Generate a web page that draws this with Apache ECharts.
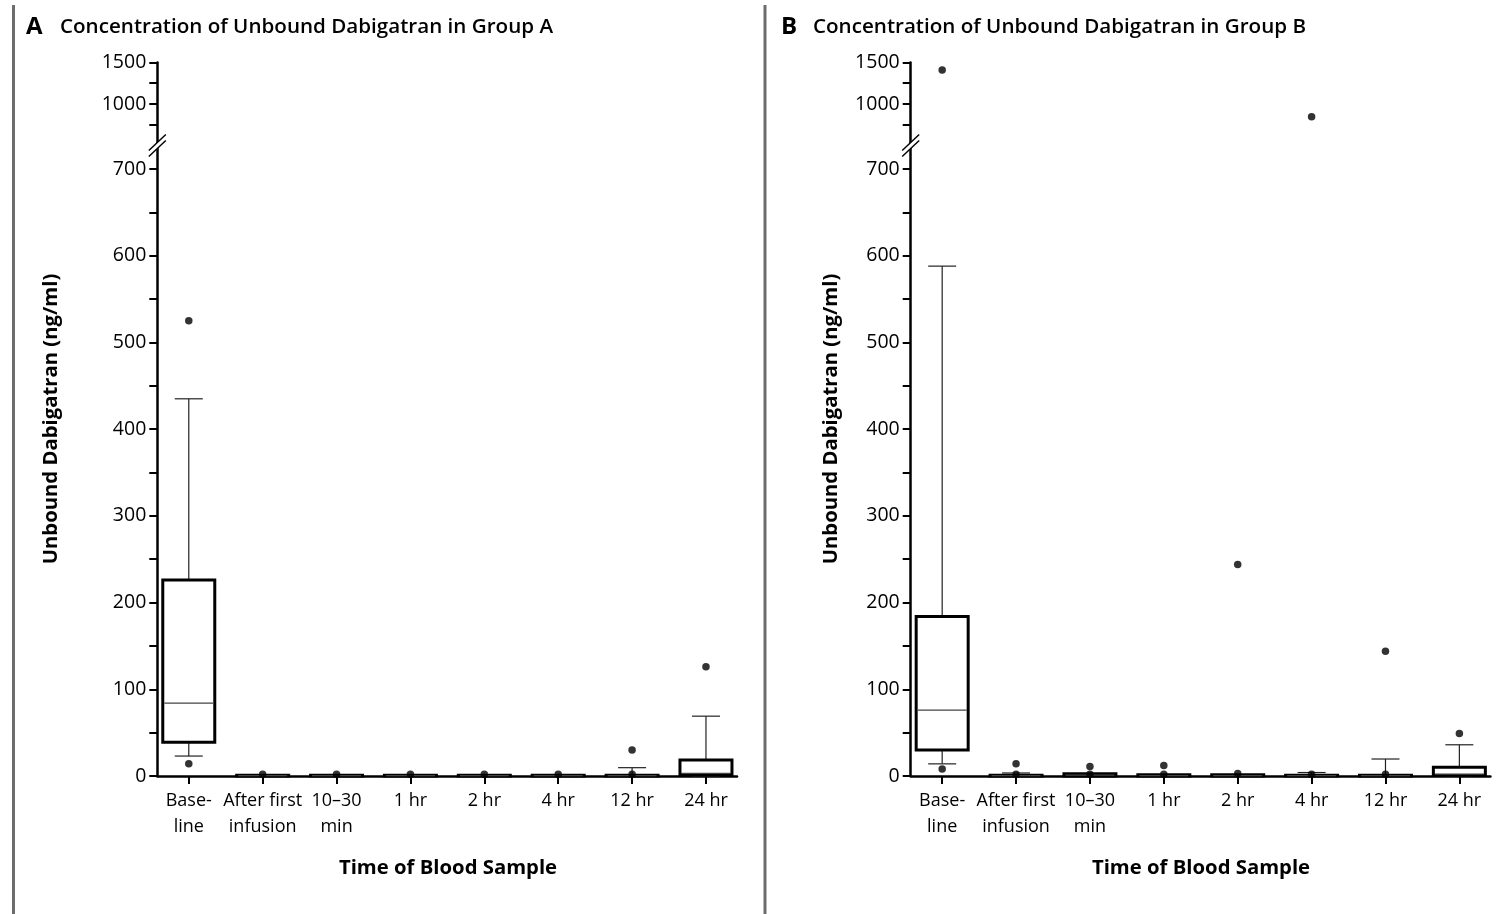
<!DOCTYPE html>
<html>
<head>
<meta charset="utf-8">
<script src="https://cdn.jsdelivr.net/npm/echarts@6/dist/echarts.min.js"></script>
<style>
html,body{margin:0;padding:0;background:#fff;}
#chart{width:1509px;height:914px;}
</style>
</head>
<body>
<div id="chart"></div>
<script>
// ---------------- DATA ----------------
const categories = ['Base-\nline', 'After first\ninfusion', '10–30\nmin', '1 hr', '2 hr', '4 hr', '12 hr', '24 hr'];
const categoryPositions = [0, 1, 2, 3, 4, 5, 6, 7];

const lowerTickValues = [0, 50, 100, 150, 200, 250, 300, 350, 400, 450, 500, 550, 600, 650, 700];
const lowerLabelValues = [0, 100, 200, 300, 400, 500, 600, 700];
const upperTickValues = [750, 1000, 1250, 1500];
const upperLabelValues = [1000, 1500];

// box stats: [lower whisker, Q1, median, Q3, upper whisker]
const boxesA = [
  [23, 39, 84, 226, 435],
  [0, 0, 0.5, 1, 1],
  [0, 0, 0.5, 1, 1],
  [0, 0, 0.5, 1, 1],
  [0, 0, 0.5, 1, 1],
  [0, 0, 0.5, 1, 1],
  [0, 0, 0.5, 1, 9.6],
  [0, 1.5, 3, 18.5, 69]
];
// outliers: [category index, value]
const outliersA = [
  [0, 525], [0, 14], [1, 2], [2, 2], [3, 2], [4, 2], [5, 2], [6, 30], [6, 2], [7, 126]
];

const boxesB = [
  [14, 30, 76, 184, 588],
  [0, 0, 0.5, 1, 3.5],
  [0, 0, 1, 2.5, 2.5],
  [0, 0, 0.5, 1.5, 1.5],
  [0, 0, 0.5, 1.5, 1.5],
  [0, 0, 0.5, 1, 4],
  [0, 0, 0.5, 1, 19.6],
  [0, 1, 2, 10, 36]
];
const outliersB = [
  [0, 1410], [0, 8], [1, 14], [1, 2], [2, 11], [2, 2], [3, 12], [3, 2],
  [4, 244], [4, 3], [5, 845], [5, 2], [6, 144], [6, 2], [7, 49]
];

const titleA = 'Concentration of Unbound Dabigatran in Group A';
const titleB = 'Concentration of Unbound Dabigatran in Group B';
const yAxisTitle = 'Unbound Dabigatran (ng/ml)';
const xAxisTitle = 'Time of Blood Sample';

// ---------------- LAYOUT ----------------
const FONT = "'Open Sans', Lato, sans-serif";
const BREAK_VALUE_LOW = 730;
const UPPER_MIN = 530, UPPER_MAX = 1500;
const X_MIN = -0.426, X_MAX = 7.42;
const panels = [
  { left: 157.3, boxes: boxesA, outliers: outliersA },
  { left: 910.7, boxes: boxesB, outliers: outliersB }
];
const GRID_W = 579.7;
const UPPER_TOP = 62.5, UPPER_H = 80.5;
const LOWER_TOP = 143, LOWER_H = 633;

const grids = [], xAxes = [], yAxes = [], series = [];

function yAxisCfg(gridIndex, min, max, ticks, labels) {
  return {
    type: 'value', gridIndex, min, max,
    axisLine: { show: true, onZero: false, lineStyle: { color: '#000', width: 2.5 } },
    axisTick: { show: true, length: 8, customValues: ticks, lineStyle: { color: '#000', width: 2 } },
    axisLabel: { customValues: labels, margin: 11, color: '#000', fontSize: 19.5, fontFamily: FONT, formatter: v => String(v) },
    splitLine: { show: false }
  };
}

function renderBox(params, api) {
  const x = api.value(0);
  const low = api.value(1), q1 = api.value(2), med = api.value(3), q3 = api.value(4), high = api.value(5);
  const pLow = api.coord([x, low]);
  const pQ1 = api.coord([x, q1]);
  const pMed = api.coord([x, med]);
  const pQ3 = api.coord([x, q3]);
  const pHigh = api.coord([x, high]);
  const cx = pMed[0];
  const halfBox = 26, halfCap = 14;
  const thin = { stroke: '#222', lineWidth: 1.2 };
  const children = [];
  if (high > q3) {
    children.push({ type: 'line', shape: { x1: cx, y1: pQ3[1], x2: cx, y2: pHigh[1] }, style: thin });
    children.push({ type: 'line', shape: { x1: cx - halfCap, y1: pHigh[1], x2: cx + halfCap, y2: pHigh[1] }, style: thin });
  }
  if (low < q1) {
    children.push({ type: 'line', shape: { x1: cx, y1: pQ1[1], x2: cx, y2: pLow[1] }, style: thin });
    children.push({ type: 'line', shape: { x1: cx - halfCap, y1: pLow[1], x2: cx + halfCap, y2: pLow[1] }, style: thin });
  }
  children.push({
    type: 'rect',
    shape: { x: cx - halfBox, y: pQ3[1], width: halfBox * 2, height: Math.max(pQ1[1] - pQ3[1], 0.3) },
    style: { fill: '#fff', stroke: '#000', lineWidth: 3 }
  });
  children.push({ type: 'line', shape: { x1: cx - halfBox + 1.5, y1: pMed[1], x2: cx + halfBox - 1.5, y2: pMed[1] }, style: { stroke: '#444', lineWidth: 1.2 } });
  return { type: 'group', children };
}

panels.forEach((p, k) => {
  const gU = k * 2, gL = k * 2 + 1;
  grids.push({ left: p.left, top: UPPER_TOP, width: GRID_W, height: UPPER_H });
  grids.push({ left: p.left, top: LOWER_TOP, width: GRID_W, height: LOWER_H });
  xAxes.push({ type: 'value', gridIndex: gU, min: X_MIN, max: X_MAX, show: false });
  xAxes.push({
    type: 'value', gridIndex: gL, min: X_MIN, max: X_MAX,
    axisLine: { show: true, onZero: false, lineStyle: { color: '#000', width: 2.5 } },
    axisTick: { show: true, length: 8, customValues: categoryPositions, lineStyle: { color: '#000', width: 2 } },
    axisLabel: {
      customValues: categoryPositions, margin: 12, color: '#000', fontSize: 18, lineHeight: 26, fontFamily: FONT,
      formatter: v => categories[Math.round(v)]
    },
    splitLine: { show: false }
  });
  yAxes.push(yAxisCfg(gU, UPPER_MIN, UPPER_MAX, upperTickValues, upperLabelValues));
  yAxes.push(yAxisCfg(gL, 0, BREAK_VALUE_LOW, lowerTickValues, lowerLabelValues));

  series.push({
    type: 'custom', xAxisIndex: gL, yAxisIndex: gL, z: 3,
    data: p.boxes.map((b, i) => [i].concat(b)),
    renderItem: renderBox,
    encode: { x: 0, y: [1, 2, 3, 4, 5] }
  });
  series.push({
    type: 'scatter', xAxisIndex: gL, yAxisIndex: gL, z: 5, symbolSize: 7.5,
    itemStyle: { color: '#000' },
    data: p.outliers.filter(o => o[1] <= BREAK_VALUE_LOW)
  });
  series.push({
    type: 'scatter', xAxisIndex: gU, yAxisIndex: gU, z: 5, symbolSize: 7.5,
    itemStyle: { color: '#000' },
    data: p.outliers.filter(o => o[1] > BREAK_VALUE_LOW)
  });
});

// break marks, titles, borders
function breakMark(ax) {
  const cy1 = 142.5, cy2 = 148.5, dx = 8.5, dy = 8;
  return [
    { type: 'polygon', z: 100, shape: { points: [[ax - dx, cy1 + dy], [ax + dx, cy1 - dy], [ax + dx, cy2 - dy], [ax - dx, cy2 + dy]] }, style: { fill: '#fff' } },
    { type: 'line', z: 101, shape: { x1: ax - dx, y1: cy1 + dy, x2: ax + dx, y2: cy1 - dy }, style: { stroke: '#000', lineWidth: 1.5 } },
    { type: 'line', z: 101, shape: { x1: ax - dx, y1: cy2 + dy, x2: ax + dx, y2: cy2 - dy }, style: { stroke: '#000', lineWidth: 1.5 } }
  ];
}

const graphics = [
  { type: 'rect', shape: { x: 12, y: 5, width: 3, height: 909 }, style: { fill: '#6d6d6d' } },
  { type: 'rect', shape: { x: 763.5, y: 5, width: 3, height: 909 }, style: { fill: '#6d6d6d' } },
  { type: 'text', x: 26, y: 27, style: { text: 'A', font: "700 24px " + FONT, fill: '#000', textVerticalAlign: 'middle' } },
  { type: 'text', x: 60, y: 27.5, style: { text: titleA, font: "600 20.6px " + FONT, fill: '#000', textVerticalAlign: 'middle' } },
  { type: 'text', x: 781, y: 27, style: { text: 'B', font: "700 24px " + FONT, fill: '#000', textVerticalAlign: 'middle' } },
  { type: 'text', x: 813, y: 27.5, style: { text: titleB, font: "600 20.6px " + FONT, fill: '#000', textVerticalAlign: 'middle' } },
  { type: 'text', x: 51, y: 419, rotation: Math.PI / 2, style: { text: yAxisTitle, font: "700 20.3px " + FONT, fill: '#000', textAlign: 'center', textVerticalAlign: 'middle' } },
  { type: 'text', x: 831, y: 419, rotation: Math.PI / 2, style: { text: yAxisTitle, font: "700 20.3px " + FONT, fill: '#000', textAlign: 'center', textVerticalAlign: 'middle' } },
  { type: 'text', x: 448, y: 868, style: { text: xAxisTitle, font: "700 20.3px " + FONT, fill: '#000', textAlign: 'center', textVerticalAlign: 'middle' } },
  { type: 'text', x: 1201, y: 868, style: { text: xAxisTitle, font: "700 20.3px " + FONT, fill: '#000', textAlign: 'center', textVerticalAlign: 'middle' } }
].concat(breakMark(157.3), breakMark(910.7));

const chart = echarts.init(document.getElementById('chart'), null, { renderer: 'canvas' });
chart.setOption({
  animation: false,
  backgroundColor: '#fff',
  grid: grids,
  xAxis: xAxes,
  yAxis: yAxes,
  series: series,
  graphic: graphics
});
</script>
</body>
</html>
